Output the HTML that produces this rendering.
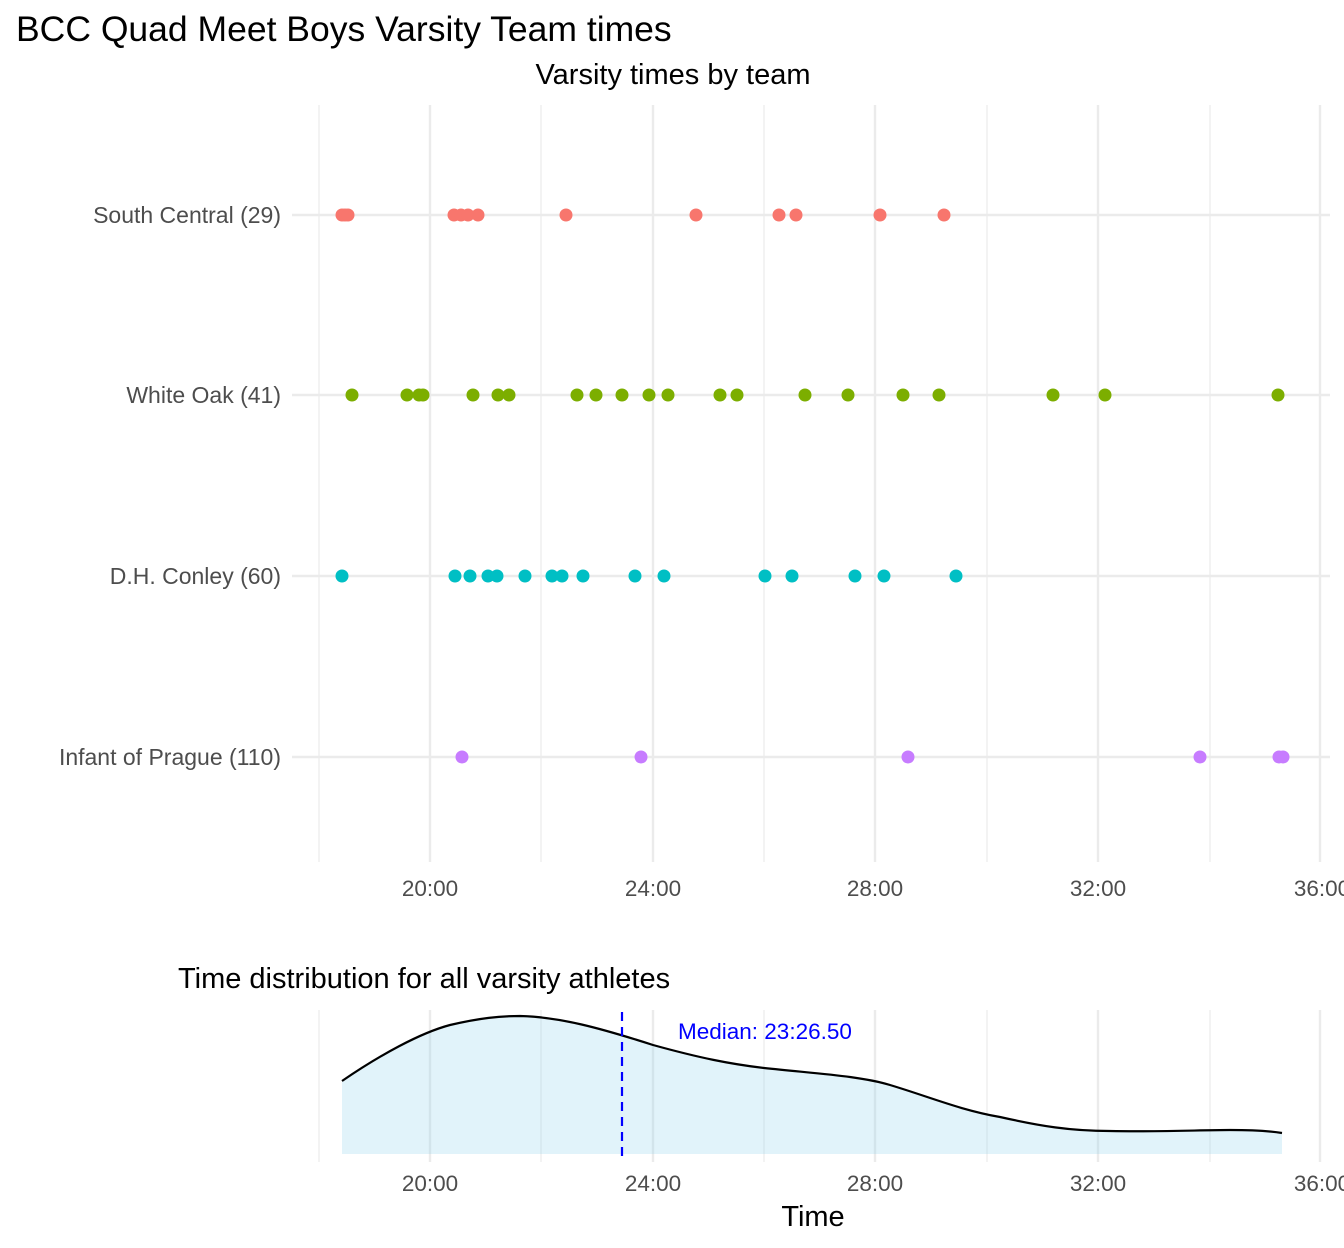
<!DOCTYPE html>
<html><head><meta charset="utf-8"><style>body{margin:0;background:#fff}svg{display:block;font-family:"Liberation Sans",sans-serif}</style></head><body>
<svg width="1344" height="1248" viewBox="0 0 1344 1248">
<rect width="1344" height="1248" fill="#fff"/>
<text x="16" y="41" font-size="35.5" fill="#000">BCC Quad Meet Boys Varsity Team times</text>
<text x="673" y="84" font-size="29" text-anchor="middle" fill="#000">Varsity times by team</text>
<g stroke="#ebebeb" stroke-width="1.2">
<line x1="319" y1="105" x2="319" y2="862"/><line x1="541" y1="105" x2="541" y2="862"/><line x1="764" y1="105" x2="764" y2="862"/><line x1="987" y1="105" x2="987" y2="862"/><line x1="1210" y1="105" x2="1210" y2="862"/>
</g>
<g stroke="#ebebeb" stroke-width="2.4">
<line x1="430" y1="105" x2="430" y2="862"/><line x1="653" y1="105" x2="653" y2="862"/><line x1="875" y1="105" x2="875" y2="862"/><line x1="1098" y1="105" x2="1098" y2="862"/><line x1="1320" y1="105" x2="1320" y2="862"/>
<line x1="292" y1="215" x2="1330" y2="215"/><line x1="292" y1="395" x2="1330" y2="395"/><line x1="292" y1="576" x2="1330" y2="576"/><line x1="292" y1="757" x2="1330" y2="757"/>
</g>
<g font-size="23" fill="#4d4d4d" text-anchor="end">
<text x="281" y="223">South Central (29)</text><text x="281" y="403">White Oak (41)</text><text x="281" y="584">D.H. Conley (60)</text><text x="281" y="765">Infant of Prague (110)</text>
</g>
<g font-size="22.5" fill="#4d4d4d" text-anchor="middle">
<text x="430" y="896">20:00</text><text x="653" y="896">24:00</text><text x="875" y="896">28:00</text><text x="1098" y="896">32:00</text><text x="1322" y="896">36:00</text>
</g>
<g fill="#f8766d">
<circle cx="342" cy="215" r="6.5"/><circle cx="345" cy="215" r="6.5"/><circle cx="348" cy="215" r="6.5"/><circle cx="454" cy="215" r="6.5"/><circle cx="461" cy="215" r="6.5"/><circle cx="468" cy="215" r="6.5"/><circle cx="478" cy="215" r="6.5"/><circle cx="566" cy="215" r="6.5"/><circle cx="696" cy="215" r="6.5"/><circle cx="779" cy="215" r="6.5"/><circle cx="796" cy="215" r="6.5"/><circle cx="880" cy="215" r="6.5"/><circle cx="944" cy="215" r="6.5"/>
</g>
<g fill="#7cae00">
<circle cx="352" cy="395" r="6.5"/><circle cx="407" cy="395" r="6.5"/><circle cx="419" cy="395" r="6.5"/><circle cx="423" cy="395" r="6.5"/><circle cx="473" cy="395" r="6.5"/><circle cx="498" cy="395" r="6.5"/><circle cx="509" cy="395" r="6.5"/><circle cx="577" cy="395" r="6.5"/><circle cx="596" cy="395" r="6.5"/><circle cx="622" cy="395" r="6.5"/><circle cx="649" cy="395" r="6.5"/><circle cx="668" cy="395" r="6.5"/><circle cx="720" cy="395" r="6.5"/><circle cx="737" cy="395" r="6.5"/><circle cx="805" cy="395" r="6.5"/><circle cx="848" cy="395" r="6.5"/><circle cx="903" cy="395" r="6.5"/><circle cx="939" cy="395" r="6.5"/><circle cx="1053" cy="395" r="6.5"/><circle cx="1105" cy="395" r="6.5"/><circle cx="1278" cy="395" r="6.5"/>
</g>
<g fill="#00bfc4">
<circle cx="342" cy="576" r="6.5"/><circle cx="455" cy="576" r="6.5"/><circle cx="470" cy="576" r="6.5"/><circle cx="488" cy="576" r="6.5"/><circle cx="497" cy="576" r="6.5"/><circle cx="525" cy="576" r="6.5"/><circle cx="552" cy="576" r="6.5"/><circle cx="562" cy="576" r="6.5"/><circle cx="583" cy="576" r="6.5"/><circle cx="635" cy="576" r="6.5"/><circle cx="664" cy="576" r="6.5"/><circle cx="765" cy="576" r="6.5"/><circle cx="792" cy="576" r="6.5"/><circle cx="855" cy="576" r="6.5"/><circle cx="884" cy="576" r="6.5"/><circle cx="956" cy="576" r="6.5"/>
</g>
<g fill="#c77cff">
<circle cx="462" cy="757" r="6.5"/><circle cx="641" cy="757" r="6.5"/><circle cx="908" cy="757" r="6.5"/><circle cx="1200" cy="757" r="6.5"/><circle cx="1279" cy="757" r="6.5"/><circle cx="1283" cy="757" r="6.5"/>
</g>
<text x="178" y="988" font-size="29" fill="#000">Time distribution for all varsity athletes</text>
<g stroke="#ebebeb" stroke-width="1.2">
<line x1="319" y1="1010" x2="319" y2="1162"/><line x1="541" y1="1010" x2="541" y2="1162"/><line x1="764" y1="1010" x2="764" y2="1162"/><line x1="987" y1="1010" x2="987" y2="1162"/><line x1="1210" y1="1010" x2="1210" y2="1162"/>
</g>
<g stroke="#ebebeb" stroke-width="2.4">
<line x1="430" y1="1010" x2="430" y2="1162"/><line x1="653" y1="1010" x2="653" y2="1162"/><line x1="875" y1="1010" x2="875" y2="1162"/><line x1="1098" y1="1010" x2="1098" y2="1162"/><line x1="1320" y1="1010" x2="1320" y2="1162"/>
</g>
<path d="M342,1154 L342,1081 C380,1055 420,1033 450,1025 C480,1018 500,1016 520,1016 C560,1017 600,1028 653,1045 C700,1058 730,1064 764,1068 C820,1074 860,1076 890,1085 C930,1097 960,1110 1000,1117 C1040,1126 1070,1131 1110,1131 C1160,1132 1200,1130 1230,1130 C1255,1130 1270,1131 1282,1133 L1282,1154 Z" fill="#87ceeb" fill-opacity="0.25" stroke="none"/>
<path d="M342,1081 C380,1055 420,1033 450,1025 C480,1018 500,1016 520,1016 C560,1017 600,1028 653,1045 C700,1058 730,1064 764,1068 C820,1074 860,1076 890,1085 C930,1097 960,1110 1000,1117 C1040,1126 1070,1131 1110,1131 C1160,1132 1200,1130 1230,1130 C1255,1130 1270,1131 1282,1133" fill="none" stroke="#000" stroke-width="2.2"/>
<line x1="622" y1="1012" x2="622" y2="1162" stroke="#0000ff" stroke-width="2.2" stroke-dasharray="9,6"/>
<text x="678" y="1039" font-size="22.5" fill="#0000ff">Median: 23:26.50</text>
<g font-size="22.5" fill="#4d4d4d" text-anchor="middle">
<text x="430" y="1191">20:00</text><text x="653" y="1191">24:00</text><text x="875" y="1191">28:00</text><text x="1098" y="1191">32:00</text><text x="1322" y="1191">36:00</text>
</g>
<text x="813" y="1226" font-size="29" text-anchor="middle" fill="#000">Time</text>
</svg>
</body></html>
